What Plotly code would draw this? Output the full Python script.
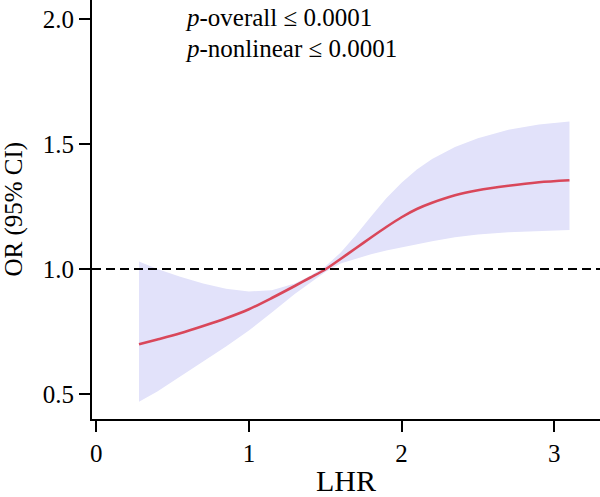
import plotly.graph_objects as go

lhr = [0.28, 0.4, 0.55, 0.7, 0.85, 1.0, 1.15, 1.3, 1.4, 1.5, 1.6, 1.7, 1.8, 1.9,
       2.0, 2.1, 2.2, 2.35, 2.5, 2.7, 2.9, 3.1]
or_est = [0.699, 0.718, 0.743, 0.772, 0.803, 0.839, 0.884, 0.932, 0.965, 0.998,
          1.040, 1.083, 1.126, 1.168, 1.207, 1.240, 1.265, 1.295, 1.315, 1.333, 1.347, 1.355]
ci_upper = [1.03, 1.00, 0.969, 0.942, 0.921, 0.91, 0.915, 0.942, 0.972, 1.01,
            1.065, 1.135, 1.21, 1.283, 1.345, 1.398, 1.44, 1.488, 1.523, 1.557, 1.578, 1.59]
ci_lower = [0.469, 0.51, 0.569, 0.63, 0.69, 0.754, 0.826, 0.9, 0.945, 0.988,
            1.022, 1.042, 1.059, 1.074, 1.086, 1.099, 1.111, 1.127, 1.138, 1.147, 1.153, 1.156]

x_ticks = [0, 1, 2, 3]
y_ticks = [0.5, 1.0, 1.5, 2.0]
y_ticklabels = ["0.5", "1.0", "1.5", "2.0"]

FONT = "Liberation Serif"
FS = 25

fig = go.Figure()
fig.add_trace(go.Scatter(
    x=lhr + lhr[::-1], y=ci_upper + ci_lower[::-1],
    fill="toself", fillcolor="#E2E2FA", line=dict(width=0),
    mode="lines", hoverinfo="skip", showlegend=False))
fig.add_trace(go.Scatter(
    x=lhr, y=or_est, mode="lines",
    line=dict(color="#D9475A", width=2.6, shape="spline", smoothing=0.8),
    showlegend=False))

fig.add_shape(type="line", xref="paper", yref="y", x0=0, x1=1, y0=1, y1=1,
              line=dict(color="black", width=2, dash="9px,5px"))

fig.add_annotation(x=0.568, y=2.008, xref="x", yref="y", xanchor="left", yanchor="middle",
                   text="<i>p</i>-overall ≤ 0.0001", showarrow=False,
                   font=dict(family=FONT, size=FS, color="black"))
fig.add_annotation(x=0.568, y=1.884, xref="x", yref="y", xanchor="left", yanchor="middle",
                   text="<i>p</i>-nonlinear ≤ 0.0001", showarrow=False,
                   font=dict(family=FONT, size=FS, color="black"))
fig.add_annotation(x=-0.1555, y=0.5, xref="paper", yref="paper", xanchor="center",
                   yanchor="middle", textangle=-90, text="OR (95% CI)", showarrow=False,
                   font=dict(family=FONT, size=FS, color="black"))

fig.update_layout(
    width=600, height=497,
    margin=dict(l=92, r=0, t=0, b=78, autoexpand=False),
    paper_bgcolor="white", plot_bgcolor="white",
    font=dict(family=FONT, size=FS, color="black"),
    xaxis=dict(range=[-0.028, 3.30], tickvals=x_ticks, showgrid=False, zeroline=False,
               showline=True, linecolor="black", linewidth=2, automargin=False,
               ticks="outside", ticklen=11, tickwidth=2, tickcolor="black",
               title=dict(text="LHR", standoff=12)),
    yaxis=dict(range=[0.4, 2.076], tickvals=y_ticks, ticktext=y_ticklabels,
               showgrid=False, zeroline=False, automargin=False,
               showline=True, linecolor="black", linewidth=2,
               ticks="outside", ticklen=11, tickwidth=2, tickcolor="black"),
)

fig.write_html("out.html")
